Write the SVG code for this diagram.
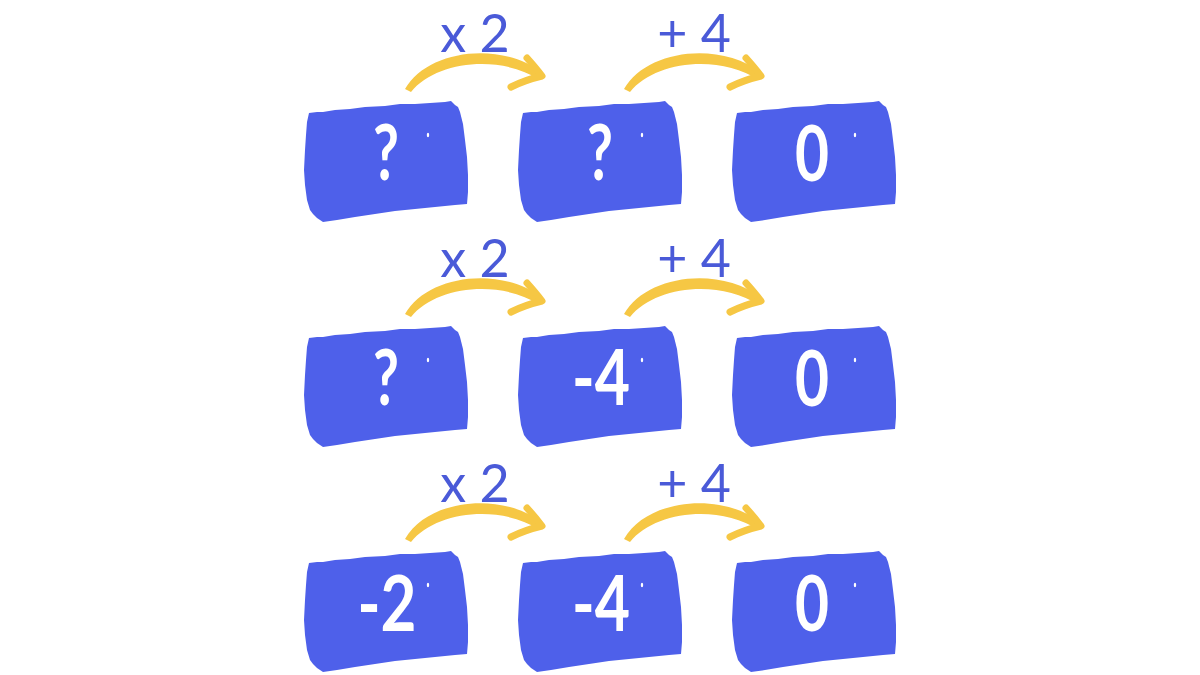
<svg xmlns="http://www.w3.org/2000/svg" width="1200" height="675" viewBox="0 0 1200 675">
  <style>
    .blk { fill: #4E60EA; }
    .val { font-family: Lato, "Open Sans", sans-serif; font-weight: 700; font-size: 76px; fill: #FFFFFF; text-anchor: middle; }
    .op { font-family: Lato, "Open Sans", sans-serif; font-weight: 400; font-size: 52px; fill: #4A5AD8; text-anchor: middle; }
    .arc { fill: #F6C744; }
    .head { fill: none; stroke: #F6C744; stroke-width: 7; stroke-linecap: round; stroke-linejoin: round; }
    .tick { fill: #FFFFFF; }
  </style>
  <defs>
    <path id="blkshape" class="blk" d="M4,13 L12,12 L18,12 L30,10 L45,9 L60,7 L80,6 L95,4 L110,4 L125,3 L140,2 L146,1 L150,5 L153,7 L155,12 L158,24 L160,40 L162,57 L163,75 L163,92 L162,104 L150,105 L130,107 L110,109 L90,111 L70,114 L50,117 L32,120 L18,122 L12,118 L8,114 L5,110 L2,100 L0,85 L-1,70 L0,50 L1,35 L2,22 Z"/>
    <g id="arrow">
      <path class="arc" d="M405,89 C427,50 500,40 543,73 L540,80 C500,54 436,61 411,92 Z"/>
      <path class="head" d="M527,58 Q536,68 542,76 Q525,80 511,87"/>
    </g>
  </defs>
  <rect width="1200" height="675" fill="#FFFFFF"/>

  <g id="connectors">
    <use href="#arrow" x="0" y="0"/>
    <use href="#arrow" x="219" y="0"/>
    <use href="#arrow" x="0" y="225"/>
    <use href="#arrow" x="219" y="225"/>
    <use href="#arrow" x="0" y="450"/>
    <use href="#arrow" x="219" y="450"/>
    <text class="op" x="475" y="52">x 2</text>
    <text class="op" x="694" y="52">+ 4</text>
    <text class="op" x="475" y="277">x 2</text>
    <text class="op" x="694" y="277">+ 4</text>
    <text class="op" x="475" y="502">x 2</text>
    <text class="op" x="694" y="502">+ 4</text>
  </g>

  <g id="r1c1">
    <use href="#blkshape" x="305" y="100"/>
    <ellipse class="tick" cx="428" cy="135" rx="1.2" ry="2.2"/>
    <text class="val" x="386" y="180" textLength="26" lengthAdjust="spacingAndGlyphs">?</text>
  </g>
  <g id="r1c2">
    <use href="#blkshape" x="519" y="100"/>
    <ellipse class="tick" cx="642" cy="135" rx="1.2" ry="2.2"/>
    <text class="val" x="600" y="180" textLength="26" lengthAdjust="spacingAndGlyphs">?</text>
  </g>
  <g id="r1c3">
    <use href="#blkshape" x="733" y="100"/>
    <ellipse class="tick" cx="855" cy="135" rx="1.2" ry="2.2"/>
    <text class="val" x="812" y="181" textLength="34" lengthAdjust="spacingAndGlyphs">0</text>
  </g>

  <g id="r2c1">
    <use href="#blkshape" x="305" y="325"/>
    <ellipse class="tick" cx="428" cy="360" rx="1.2" ry="2.2"/>
    <text class="val" x="386" y="405" textLength="26" lengthAdjust="spacingAndGlyphs">?</text>
  </g>
  <g id="r2c2">
    <use href="#blkshape" x="519" y="325"/>
    <ellipse class="tick" cx="642" cy="360" rx="1.2" ry="2.2"/>
    <text class="val" x="601" y="405" textLength="58" lengthAdjust="spacingAndGlyphs">-4</text>
  </g>
  <g id="r2c3">
    <use href="#blkshape" x="733" y="325"/>
    <ellipse class="tick" cx="855" cy="360" rx="1.2" ry="2.2"/>
    <text class="val" x="812" y="406" textLength="34" lengthAdjust="spacingAndGlyphs">0</text>
  </g>

  <g id="r3c1">
    <use href="#blkshape" x="305" y="550"/>
    <ellipse class="tick" cx="428" cy="585" rx="1.2" ry="2.2"/>
    <text class="val" x="387" y="631" textLength="59" lengthAdjust="spacingAndGlyphs">-2</text>
  </g>
  <g id="r3c2">
    <use href="#blkshape" x="519" y="550"/>
    <ellipse class="tick" cx="642" cy="585" rx="1.2" ry="2.2"/>
    <text class="val" x="601" y="631" textLength="58" lengthAdjust="spacingAndGlyphs">-4</text>
  </g>
  <g id="r3c3">
    <use href="#blkshape" x="733" y="550"/>
    <ellipse class="tick" cx="855" cy="585" rx="1.2" ry="2.2"/>
    <text class="val" x="812" y="631" textLength="34" lengthAdjust="spacingAndGlyphs">0</text>
  </g>
</svg>
